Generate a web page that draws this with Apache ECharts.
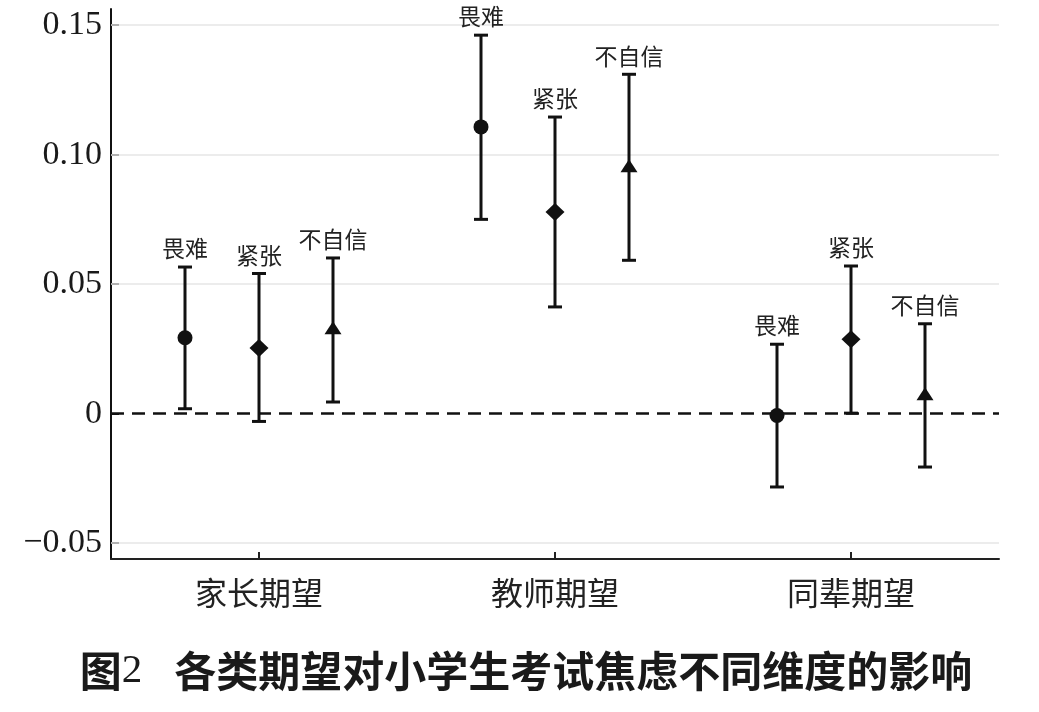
<!DOCTYPE html>
<html>
<head>
<meta charset="utf-8">
<script src="https://cdn.jsdelivr.net/npm/echarts@6/dist/echarts.min.js"></script>
<style>
html,body{margin:0;padding:0;background:#fff;}
#main{width:1039px;height:712px;}
</style>
</head>
<body>
<div id="main"></div>
<script>
// ---- data ----
const categories = ['家长期望', '教师期望', '同辈期望'];
const dimensions = ['畏难', '紧张', '不自信'];
// point estimates per category (rows) and dimension (columns)
const pointEstimates = [
  [0.0293, 0.0253, 0.0326],
  [0.1107, 0.0778, 0.0951],
  [-0.0007, 0.0287, 0.0071]
];
const lowerBounds = [
  [0.0019, -0.0030, 0.0045],
  [0.0750, 0.0412, 0.0592],
  [-0.0283, 0.0002, -0.0206]
];
const upperBounds = [
  [0.0566, 0.0541, 0.0601],
  [0.1461, 0.1145, 0.1310],
  [0.0268, 0.0570, 0.0347]
];
const yTickValues = [-0.05, 0, 0.05, 0.10, 0.15];
const yTickLabels = ['\u22120.05', '0', '0.05', '0.10', '0.15'];
const titleFigure = '图';
const titleNumber = '2';
const titleText = '各类期望对小学生考试焦虑不同维度的影响';

// ---- build ----
const seriesData = [];
categories.forEach(function (c, i) {
  dimensions.forEach(function (d, j) {
    seriesData.push([i, j, pointEstimates[i][j], lowerBounds[i][j], upperBounds[i][j]]);
  });
});

const INK = '#111';

function renderItem(params, api) {
  const cat = api.value(0);
  const j = api.value(1);
  const mean = api.value(2);
  const lo = api.value(3);
  const hi = api.value(4);
  const band = api.size([1, 0])[0];
  const cx = api.coord([cat, mean])[0] + (j - 1) * band * 0.25;
  const yM = api.coord([cat, mean])[1];
  const yLo = api.coord([cat, lo])[1];
  const yHi = api.coord([cat, hi])[1];
  const capW = 7;
  const lw = 3;
  const children = [
    { type: 'line', shape: { x1: cx, y1: yHi, x2: cx, y2: yLo }, style: { stroke: INK, lineWidth: lw } },
    { type: 'line', shape: { x1: cx - capW, y1: yHi, x2: cx + capW, y2: yHi }, style: { stroke: INK, lineWidth: lw } },
    { type: 'line', shape: { x1: cx - capW, y1: yLo, x2: cx + capW, y2: yLo }, style: { stroke: INK, lineWidth: lw } }
  ];
  if (j === 0) {
    children.push({ type: 'circle', shape: { cx: cx, cy: yM, r: 7.5 }, style: { fill: INK } });
  } else if (j === 1) {
    children.push({ type: 'polygon', shape: { points: [[cx, yM - 9], [cx + 9.5, yM], [cx, yM + 9], [cx - 9.5, yM]] }, style: { fill: INK } });
  } else {
    children.push({ type: 'polygon', shape: { points: [[cx, yM - 8], [cx + 8.5, yM + 5], [cx - 8.5, yM + 5]] }, style: { fill: INK } });
  }
  children.push({
    type: 'text',
    x: cx,
    y: yHi - 7,
    style: {
      text: dimensions[j],
      fontSize: 23,
      fontFamily: 'Noto Sans CJK SC',
      fill: '#222',
      align: 'center',
      verticalAlign: 'bottom',
      textAlign: 'center',
      textVerticalAlign: 'bottom'
    }
  });
  return { type: 'group', children: children };
}

const chart = echarts.init(document.getElementById('main'), null, { renderer: 'canvas' });

const gridLineData = yTickValues.filter(function (v) { return v !== 0; }).map(function (v) { return { yAxis: v }; });

chart.setOption({
  animation: false,
  backgroundColor: '#fff',
  grid: { left: 111, right: 40, top: 9, bottom: 153, containLabel: false },
  xAxis: {
    type: 'category',
    data: categories,
    boundaryGap: true,
    axisLine: { show: true, onZero: false, lineStyle: { color: '#222', width: 2 } },
    axisTick: { show: true, inside: true, alignWithLabel: true, length: 7, lineStyle: { color: '#222', width: 2 } },
    axisLabel: { fontSize: 32, color: '#222', margin: 18, fontFamily: 'Noto Sans CJK SC' },
    splitLine: { show: false }
  },
  yAxis: {
    type: 'value',
    min: -0.0561,
    max: 0.1562,
    axisLine: { show: true, onZero: false, lineStyle: { color: '#111', width: 2 } },
    axisTick: { show: true, inside: true, length: 8, customValues: yTickValues, lineStyle: { color: '#111', width: 2 } },
    axisLabel: {
      customValues: yTickValues,
      fontSize: 34,
      color: '#1a1a1a',
      fontFamily: 'Liberation Serif',
      margin: 9,
      formatter: function (v) {
        for (let k = 0; k < yTickValues.length; k++) {
          if (Math.abs(v - yTickValues[k]) < 1e-6) return yTickLabels[k];
        }
        return '';
      }
    },
    splitLine: { show: false }
  },
  graphic: [{
    type: 'text',
    x: 526,
    y: 671,
    style: {
      text: '{a|' + titleFigure + '}{b|' + titleNumber + '}{c| }{a|' + titleText + '}',
      align: 'center',
      verticalAlign: 'middle',
      textAlign: 'center',
      textVerticalAlign: 'middle',
      rich: {
        a: { fontSize: 42, fontWeight: 'bold', fontFamily: 'Noto Sans CJK SC', fill: '#1a1a1a', color: '#1a1a1a' },
        b: { fontSize: 41, fontFamily: 'Liberation Serif', fill: '#1a1a1a', color: '#1a1a1a' },
        c: { fontSize: 40, width: 32 }
      }
    }
  }],
  series: [{
    type: 'custom',
    renderItem: renderItem,
    data: seriesData,
    encode: { x: 0, y: [2, 3, 4] },
    silent: true,
    z: 5,
    markLine: {
      silent: true,
      symbol: 'none',
      label: { show: false },
      animation: false,
      data: gridLineData.map(function (d) {
        return Object.assign({ lineStyle: { color: '#e6e6e6', width: 1.5, type: 'solid' } }, d);
      }).concat([{ yAxis: 0, lineStyle: { color: '#111', width: 2.5, type: [13, 8] } }])
    }
  }]
});
</script>
</body>
</html>
